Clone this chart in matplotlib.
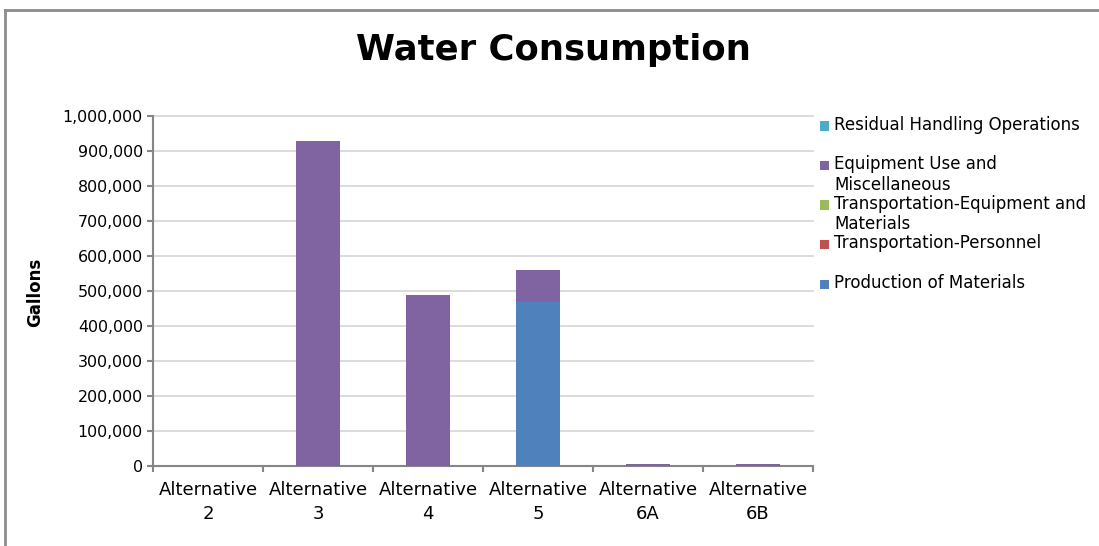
import matplotlib
matplotlib.use('Agg')
import matplotlib.pyplot as plt
from matplotlib.patches import Rectangle
from matplotlib.lines import Line2D
from matplotlib.ticker import FuncFormatter, MultipleLocator
import numpy as np

plt.rcParams['font.family'] = ['DejaVu Sans']

categories = ['Alternative\n2', 'Alternative\n3', 'Alternative\n4',
              'Alternative\n5', 'Alternative\n6A', 'Alternative\n6B']

# stacking order, bottom to top
series = ['Production of Materials', 'Transportation-Personnel',
          'Transportation-Equipment and\nMaterials',
          'Equipment Use and\nMiscellaneous', 'Residual Handling Operations']
colors = ['#4F81BD', '#C0504D', '#9BBB59', '#8064A2', '#4BACC6']

production = [0, 0, 0, 469000, 0, 0]
transport_personnel = [0, 0, 0, 0, 0, 0]
transport_equipment = [0, 0, 0, 0, 0, 0]
equipment_use = [0, 928000, 490000, 91000, 7000, 5000]
residual = [0, 0, 0, 0, 0, 0]
values = [production, transport_personnel, transport_equipment, equipment_use, residual]

W, H = 1099, 546
fig = plt.figure(figsize=(W / 100, H / 100), dpi=100)
ax = fig.add_axes([153 / W, 1 - 466 / H, (813 - 153) / W, (466 - 116) / H])

x = np.arange(len(categories))
bottom = np.zeros(len(categories))
for name, col, vals in zip(series, colors, values):
    vals = np.array(vals, dtype=float)
    ax.bar(x, vals, 0.4, bottom=bottom, color=col, edgecolor='none', zorder=3)
    bottom += vals

ax.set_xlim(-0.5, len(categories) - 0.5)
ax.set_ylim(0, 1000000)
ax.yaxis.set_major_locator(MultipleLocator(100000))
ax.yaxis.set_major_formatter(FuncFormatter(lambda v, p: '{:,.0f}'.format(v)))
ax.grid(axis='y', color='#d9d9d9', linewidth=1.3, zorder=0)
ax.set_axisbelow(True)
for gl in ax.get_ygridlines():
    gl.set_clip_on(False)

for s in ['top', 'right']:
    ax.spines[s].set_visible(False)
for s in ['left', 'bottom']:
    ax.spines[s].set_color('#868686')
    ax.spines[s].set_linewidth(1.5)

ax.set_xticks(np.arange(len(categories) + 1) - 0.5)
ax.set_xticklabels([])
ax.set_xticks(x, minor=True)
ax.set_xticklabels(categories, minor=True, fontsize=13, linespacing=1.4)
ax.tick_params(axis='x', which='major', length=4.5, width=1.5, color='#868686')
ax.tick_params(axis='x', which='minor', length=0, pad=11)
ax.tick_params(axis='y', length=4.3, width=1.5, color='#868686', labelsize=11.4, pad=3)

fig.text(35 / W, 1 - 292 / H, 'Gallons', fontsize=12, fontweight='bold',
         rotation=90, ha='center', va='center')

fig.text(553 / W, 1 - 60 / H, 'Water Consumption', fontsize=25.5, fontweight='bold',
         ha='center', va='baseline')

# legend, top entry first
for i, (name, col) in enumerate(zip(series[::-1], colors[::-1])):
    y = 126 + 39.5 * i
    fig.patches.append(Rectangle((820 / W, 1 - (y + 4.5) / H), 9 / W, 9 / H,
                                 facecolor=col, edgecolor='none',
                                 transform=fig.transFigure))
    fig.text(834 / W, 1 - (y - 10.5) / H, name, fontsize=12, ha='left', va='top',
             linespacing=1.18)

# frame lines
fig.add_artist(Line2D([5 / W, 1], [1 - 10 / H, 1 - 10 / H], color='#8c8c8c',
                      linewidth=2, transform=fig.transFigure))
fig.add_artist(Line2D([5 / W, 5 / W], [0, 1 - 10 / H], color='#8c8c8c',
                      linewidth=2, transform=fig.transFigure))

fig.savefig('out.png', dpi=100)
